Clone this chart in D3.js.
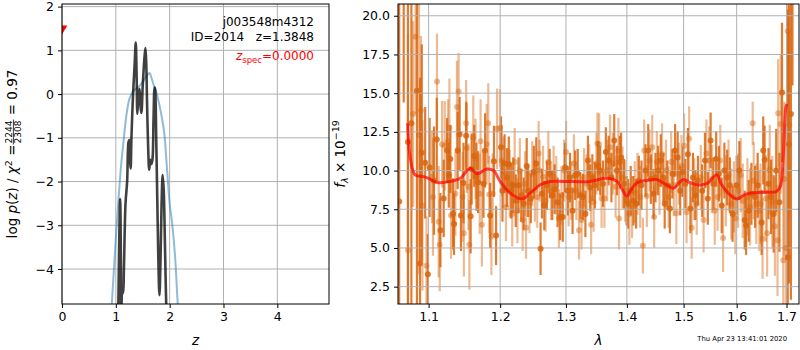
<!DOCTYPE html>
<html><head><meta charset="utf-8">
<script src="https://cdn.jsdelivr.net/npm/d3@7"></script>
<style>
body{margin:0;background:#fff}
svg{font-family:"DejaVu Sans",sans-serif;display:block}
</style>
</head><body>
<svg id="c" width="800" height="350"></svg>
<script>
// ---------- left panel data: redshift probability ----------
const pzZ = [1.04,1.06,1.08,1.095,1.10,1.12,1.135,1.15,1.18,1.21,1.235,1.25,1.265,1.275,1.29,1.32,1.35,1.37,1.385,1.40,1.42,1.44,1.46,1.475,1.50,1.53,1.55,1.565,1.58,1.60,1.62,1.64,1.66,1.68,1.70,1.72,1.73,1.75,1.77,1.79,1.81,1.83,1.85,1.87,1.89,1.91,1.93,1.95];
const pzLog = [-5.5,-3.6,-2.4,-4.0,-5.2,-4.5,-4.55,-4.0,-2.5,-2.0,-1.1,-1.05,-1.55,-1.7,-1.0,0.0,0.7,1.18,0.5,-0.45,0.0,0.12,-0.3,-0.43,0.2,0.8,1.05,0.7,-0.2,-1.2,-1.73,-1.5,-1.6,-1.5,-0.6,0.15,0.1,-1.0,-2.4,-3.8,-4.6,-3.8,-2.5,-1.85,-2.2,-3.3,-4.5,-5.5];
const chiZ = [0.90,0.95,1.0,1.05,1.10,1.15,1.20,1.25,1.30,1.35,1.40,1.45,1.50,1.55,1.60,1.63,1.65,1.70,1.75,1.80,1.85,1.90,1.95,2.0,2.05,2.10,2.15,2.2];
const chiLog = [-5.3,-4.3,-3.3,-2.4,-1.6,-1.0,-0.45,-0.12,0.02,0.1,0.15,0.2,0.28,0.38,0.46,0.48,0.42,0.22,0.05,-0.2,-0.5,-0.9,-1.7,-2.5,-3.0,-3.7,-4.8,-5.6];
const zSpec = [0.0], zSpecMark = [1.5];
const zTicks = [0,1,2,3,4];
const pzTicks = [-4,-3,-2,-1,0,1,2];

// ---------- right panel data: 1D spectrum ----------
const darkWave = [1.0613,1.0672,1.0727,1.0772,1.0845,1.0886,1.0909,1.0954,1.099,1.1013,1.1072,1.111,1.1159,1.1204,1.125,1.1273,1.1295,1.1332,1.1345,1.1395,1.1423,1.1441,1.1477,1.1514,1.1577,1.1591,1.1627,1.1659,1.1682,1.1759,1.1782,1.1855,1.191,1.1941,
 1.2013,1.2034,1.2065,1.2101,1.2127,1.2163,1.2193,1.2230,1.2271,1.2312,1.2348,1.2394,1.2415,1.2456,1.2502,1.2539,1.2605,1.2626,1.2662,1.2703,1.2745,1.2786,1.2822,1.2868,1.2909,1.2950,1.2987,1.3028,1.3064,1.3105,1.3146,1.3187,1.3229,1.3270,1.3311,1.3352,1.3388,1.3424,1.3465,1.3517,
 1.3553,1.3599,1.3646,1.3693,1.3739,1.3786,1.3832,1.3879,1.3902,1.3949,1.3995,1.4019,1.4065,1.4112,1.4158,1.4205,1.4251,1.4321,1.4368,1.4414,1.4461,1.4496,1.4542,1.4589,1.4635,1.4659,1.4705,1.4752,1.4798,1.4845,1.4891,1.4938,1.4985,1.5031,1.5078,1.5124,1.5171,1.5217,1.5264,
 1.5343,1.5395,1.5448,1.5501,1.5553,1.5606,1.5658,1.5711,1.5763,1.5816,1.5868,1.5921,1.6000,1.6052,1.6157,1.6184,1.6236,1.6289,1.6361,1.6414,1.6493,1.6525,1.6552,1.6631,1.6683,1.6736,1.6788,1.6854,1.6907,1.7025,1.7051,1.7091,1.7124];
const darkFlux = [8.0,23.5,11.85,13.05,15.15,4.0,11.15,10.5,3.3,10.2,9.35,12.0,6.15,8.2,11.3,9.7,10.75,7.2,6.55,11.3,12.35,7.1,9.2,12.25,7.05,10.1,10.95,9.6,9.25,9.15,11.3,7.1,10.6,5.8,
 11.5,8.7,10.45,9.55,10.4,8.7,9.05,8.05,9.05,8.4,7.85,10.3,8.7,8.2,9.9,10.45,4.95,8.5,7.75,9.05,9.8,8.4,8.8,7.95,7.0,7.0,10.2,8.7,9.55,7.4,9.7,9.8,8.4,8.3,7.2,10.65,8.9,9.55,9.05,10.3,
 10.0,9.15,11.2,10.65,9.55,11.95,10.0,10.55,10.85,9.15,8.05,7.85,8.7,8.05,7.85,9.35,9.05,10.0,11.3,9.45,8.5,9.55,10.0,10.65,9.55,7.85,9.05,7.55,9.8,11.3,10.85,8.7,9.9,9.15,11.05,7.55,9.55,8.4,9.35,
 8.7,10.65,8.2,11.95,9.15,10.75,9.8,7.75,10.0,9.55,9.05,7.2,9.05,10.0,6.8,6.45,7.4,8.5,8.3,9.05,6.65,11.3,10.7,9.15,8.3,7.2,10.0,7.95,15.05,4.4,11.7,13.65,25];
const darkErr = [14,9.1,14,13,14,12,7,3.6,2.6,3.2,3.5,2.7,2.4,2.5,2.1,2.1,2.2,2.3,2.0,2.5,2.4,2.3,2.6,2.2,2.4,2.3,2.0,2.2,2.0,2.2,2.4,2.1,2.3,1.9,
 2.0,2.0,1.9,1.9,1.8,1.8,1.8,1.7,1.8,1.7,1.7,1.8,1.7,1.6,1.7,1.7,1.7,1.6,1.6,1.6,1.6,1.6,1.6,1.6,1.5,1.6,1.6,1.6,1.6,1.5,1.6,1.6,1.5,1.5,1.5,1.6,1.5,1.5,1.5,1.6,
 1.6,1.5,1.6,1.6,1.6,1.7,1.6,1.7,1.6,1.6,1.6,1.6,1.6,1.6,1.6,1.6,1.6,1.7,1.7,1.6,1.6,1.6,1.6,1.7,1.6,1.6,1.6,1.6,1.6,1.7,1.7,1.6,1.6,1.6,1.7,1.6,1.6,1.6,1.6,
 1.7,1.8,1.7,1.8,1.7,1.8,1.8,1.8,1.8,1.8,1.8,1.8,1.9,1.9,1.9,1.9,2.0,2.0,2.0,2.1,2.1,2.2,2.2,2.3,2.4,2.5,2.7,3.2,4.5,16,9,12,9.5];

const lightWave = [1.0727,1.0795,1.0827,1.0872,1.0899,1.0918,1.0972,1.1045,1.1059,1.1113,1.1136,1.115,1.1182,1.1218,1.1263,1.1282,1.1304,1.1364,1.1386,1.1409,1.1464,1.1482,1.1514,1.1523,1.1546,1.1559,1.1614,1.1646,1.1705,1.1718,1.1737,1.1805,1.1828,1.1841,1.1873,1.1891,1.1955,
 1.1998,1.2024,1.2050,1.2085,1.2142,1.2178,1.2214,1.2255,1.2291,1.2333,1.2369,1.2384,1.2436,1.2477,1.2518,1.2554,1.2575,1.2590,1.2642,1.2683,1.2724,1.2765,1.2806,1.2848,1.2889,1.2930,1.2971,1.3002,1.3043,1.3084,1.3126,1.3167,1.3208,1.3249,1.3290,1.3332,1.3373,1.3404,1.3445,1.3491,1.3507,
 1.3535,1.3576,1.3623,1.3669,1.3716,1.3762,1.3809,1.3856,1.3867,1.3925,1.3972,1.4042,1.4088,1.4135,1.4181,1.4228,1.4275,1.4298,1.4344,1.4391,1.4438,1.4472,1.4519,1.4566,1.4612,1.4682,1.4729,1.4775,1.4822,1.4868,1.4915,1.4961,1.5008,1.5054,1.5101,1.5148,1.5194,1.5241,
 1.5317,1.5369,1.5422,1.5474,1.5527,1.5579,1.5632,1.5684,1.5737,1.5790,1.5842,1.5895,1.5947,1.5974,1.6026,1.6079,1.6118,1.6210,1.6263,1.6315,1.6335,1.6387,1.6447,1.6473,1.6512,1.6578,1.6604,1.6657,1.6709,1.6762,1.6815,1.6828,1.6880,1.6933,1.6953,1.6986,1.7025,1.7058];
const lightFlux = [4.85,13.65,18.65,12.3,13.9,7.75,3.85,9.6,8.3,15.75,6.7,5.2,11.7,11.6,11.9,12.75,7.1,8.5,14.1,15.1,8.3,5.95,13.05,11.45,8.95,5.2,12.15,10.75,8.5,11.9,6.5,11.7,13.05,8.45,5.75,8.5,12.7,
 12.75,10.65,9.9,7.65,9.15,7.2,10.55,7.4,10.0,6.8,9.15,6.3,7.95,9.8,8.7,8.3,11.1,10.0,9.6,8.05,10.55,8.7,9.6,9.05,6.9,8.4,10.0,11.2,8.3,8.7,10.45,8.7,6.15,6.8,9.55,9.15,9.8,6.5,7.95,10.45,11.75,
 11.7,8.2,8.2,10.0,11.5,10.45,8.95,11.3,6.9,9.55,8.7,7.2,7.65,8.6,9.15,8.3,5.15,11.3,8.35,10.65,11.5,7.0,10.55,9.15,11.05,10.0,8.3,10.55,9.05,7.25,9.8,10.3,11.6,7.3,12.05,6.3,8.8,7.85,
 9.55,6.8,11.1,10.65,9.45,7.4,8.3,10.65,5.65,8.7,9.7,7.85,8.3,6.9,8.7,9.7,8.05,8.3,7.65,13.05,9.35,7.85,7.4,7.85,5.6,8.2,5.95,10.05,7.95,6.4,5.5,13.7,13.0,4.2,9.45,5.0,19.0,12.95];
const lightErr = [14,6,5,9,4.8,5.5,3.2,3.0,3.8,3.1,3.6,3.0,2.8,2.9,2.7,3.2,2.8,2.7,3.0,2.5,2.9,2.8,2.8,2.9,2.8,2.9,2.7,2.6,2.6,2.7,2.7,2.6,2.6,2.5,2.5,2.6,2.6,
 2.5,2.3,2.3,2.2,2.2,2.1,2.2,2.1,2.1,2.0,2.1,2.0,2.0,2.1,2.0,2.0,2.1,2.0,2.0,2.0,2.0,1.9,2.0,1.9,1.9,1.9,2.0,2.0,1.9,1.9,1.9,1.9,1.9,1.9,1.9,1.9,1.9,1.9,1.9,2.0,2.0,
 2.0,1.9,1.9,2.0,2.1,2.0,2.0,2.1,2.0,2.0,2.0,2.0,2.0,2.0,2.0,2.0,1.8,2.0,2.0,2.0,2.1,2.0,2.0,2.0,2.0,2.0,2.0,2.0,2.0,2.0,2.0,2.0,2.1,2.0,2.1,2.0,2.0,2.0,
 2.1,2.1,2.2,2.2,2.2,2.2,2.2,2.3,2.2,2.3,2.3,2.3,2.3,2.3,2.4,2.4,2.4,2.5,2.5,1.4,2.5,2.6,2.6,2.6,2.6,2.8,2.8,2.9,3.0,3.2,3.6,3.5,4.5,6,5,8,6,6];

const modelWave = [1.0723,1.0755,1.082,1.0934,1.1,1.1113,1.1294,1.1432,1.157,1.1666,1.1808,1.1904,1.2,1.2147,1.232,1.2446,1.26,1.2752,1.296,1.3387,1.366,1.383,1.394,1.3998,1.4054,1.4168,1.4342,1.4516,1.4694,1.4815,1.4995,1.5117,1.524,1.5426,1.5614,1.571,1.5837,1.6,1.6194,1.6523,1.6795,1.6876,1.693,1.6986,1.701];
const modelFlux = [13.06,10.9,9.72,9.61,9.5,9.23,9.3,9.5,10.15,9.79,10.1,10.0,9.3,8.54,8.17,8.54,9.08,9.3,9.3,9.3,9.5,9.3,8.65,8.32,8.65,9.2,9.36,9.42,9.08,8.86,9.42,9.23,9.08,9.15,9.72,9.08,8.54,8.17,8.49,8.6,8.65,9.0,10.7,14.1,14.3];
const waveTicks = [1.1,1.2,1.3,1.4,1.5,1.6,1.7];
const fluxTicks = [2.5,5.0,7.5,10.0,12.5,15.0,17.5,20.0];

// ---------- drawing ----------
const svg = d3.select("#c");
const L = {x0:62, x1:329, y0:4, y1:304};
const R = {x0:398, x1:799, y0:4, y1:304};
const GRID = "#b0b0b0", TICKFS = 12.5;

const xz = d3.scaleLinear().domain([0,4.96]).range([L.x0,L.x1]);
const yz = d3.scaleLinear().domain([-4.8,2.06]).range([L.y1,L.y0]);
const xw = d3.scaleLog().domain([1.0598,1.726]).range([R.x0,R.x1]);
const yf = d3.scaleLinear().domain([1.38,20.76]).range([R.y1,R.y0]);

const defs = svg.append("defs");
defs.append("clipPath").attr("id","clipL").append("rect").attr("x",L.x0).attr("y",L.y0).attr("width",L.x1-L.x0).attr("height",L.y1-L.y0);
defs.append("clipPath").attr("id","clipR").append("rect").attr("x",R.x0).attr("y",R.y0).attr("width",R.x1-R.x0).attr("height",R.y1-R.y0);

function grid(g, P, xs, xt, ys, yt){
  g.selectAll(null).data(xt).join("line").attr("x1",d=>xs(d)).attr("x2",d=>xs(d)).attr("y1",P.y0).attr("y2",P.y1)
    .attr("stroke",GRID).attr("stroke-width",1);
  g.selectAll(null).data(yt).join("line").attr("y1",d=>ys(d)).attr("y2",d=>ys(d)).attr("x1",P.x0).attr("x2",P.x1)
    .attr("stroke",GRID).attr("stroke-width",1);
}
function axes(P, xs, xt, xf, ys, yt, yf_){
  const gx = svg.append("g").attr("transform",`translate(0,${P.y1})`)
    .call(d3.axisBottom(xs).tickValues(xt).tickFormat(xf).tickSize(4).tickPadding(4));
  const gy = svg.append("g").attr("transform",`translate(${P.x0},0)`)
    .call(d3.axisLeft(ys).tickValues(yt).tickFormat(yf_).tickSize(4).tickPadding(4));
  [gx,gy].forEach(g=>{g.select(".domain").remove(); g.selectAll("text").attr("font-size",TICKFS).attr("font-family","DejaVu Sans").attr("fill","#000");
    g.selectAll("line").attr("stroke","#000").attr("stroke-width",1);});
  svg.append("rect").attr("x",P.x0).attr("y",P.y0).attr("width",P.x1-P.x0).attr("height",P.y1-P.y0)
    .attr("fill","none").attr("stroke","#000").attr("stroke-width",1);
}

// ----- left panel -----
const gL = svg.append("g");
grid(gL, L, xz, zTicks, yz, pzTicks);
const gLc = gL.append("g").attr("clip-path","url(#clipL)");
const line = d3.line().curve(d3.curveCatmullRom.alpha(0.5));
gLc.append("path").attr("d", line(chiZ.map((z,i)=>[xz(z),yz(chiLog[i])])))
  .attr("fill","none").attr("stroke","#1f77b4").attr("stroke-opacity",0.5).attr("stroke-width",2);
gLc.append("path").attr("d", line(pzZ.map((z,i)=>[xz(z),yz(pzLog[i])])))
  .attr("fill","none").attr("stroke","#000").attr("stroke-opacity",0.75).attr("stroke-width",2.6).attr("stroke-linejoin","round");
gLc.selectAll(null).data(zSpec).join("path")
  .attr("d", d3.symbol(d3.symbolTriangle, 48)())
  .attr("transform",(d,i)=>`translate(${xz(d)},${yz(zSpecMark[i])}) rotate(180)`)
  .attr("fill","red");
axes(L, xz, zTicks, d3.format("d"), yz, pzTicks, d3.format("d"));

// annotations
const ann = svg.append("g").attr("font-size",12).attr("text-anchor","end");
ann.append("text").attr("x",314).attr("y",26).text("j003548m4312");
ann.append("text").attr("x",314).attr("y",41).attr("xml:space","preserve").text("ID=2014   z=1.3848");
const zs = ann.append("text").attr("x",314).attr("y",60).attr("fill","red");
zs.append("tspan").attr("font-style","italic").text("z");
zs.append("tspan").attr("font-size",8.5).attr("dy",2.5).text("spec");
zs.append("tspan").attr("dy",-2.5).text("=0.0000");

// x label
svg.append("text").attr("x",(L.x0+L.x1)/2).attr("y",345).attr("text-anchor","middle")
  .attr("font-size",13.5).attr("font-style","italic").text("z");

// y label with fraction
{
  const g = svg.append("g").attr("font-size",13.5);
  const t1 = g.append("text").attr("x",0).attr("y",0);
  t1.append("tspan").text("log ");
  t1.append("tspan").attr("font-style","italic").text("p");
  t1.append("tspan").text("(");
  t1.append("tspan").attr("font-style","italic").text("z");
  t1.append("tspan").text(") / ");
  t1.append("tspan").attr("font-style","italic").text("χ");
  t1.append("tspan").attr("font-size",9.5).attr("dy",-5.5).text("2");
  t1.append("tspan").attr("dy",5.5).text(" = ");
  const w1 = t1.node().getComputedTextLength();
  const num = g.append("text").attr("font-size",9).attr("text-anchor","middle").attr("y",-5).text("2244");
  const den = g.append("text").attr("font-size",9).attr("text-anchor","middle").attr("y",4).text("2308");
  const wf = Math.max(num.node().getComputedTextLength(), den.node().getComputedTextLength()) + 2;
  num.attr("x", w1 + wf/2); den.attr("x", w1 + wf/2);
  g.append("line").attr("x1",w1).attr("x2",w1+wf).attr("y1",-3.6).attr("y2",-3.6).attr("stroke","#000").attr("stroke-width",0.8);
  const t3 = g.append("text").attr("x",w1+wf).attr("y",0).attr("xml:space","preserve").text(" = 0.97");
  const W = w1 + wf + t3.node().getComputedTextLength();
  g.attr("transform",`translate(17,${(L.y0+L.y1)/2 + W/2}) rotate(-90)`);
}

// ----- right panel -----
const gR = svg.append("g");
const gRc = gR.append("g").attr("clip-path","url(#clipR)");
const ORANGE = "#d9650e";
function errbars(g, W, F, E, op){
  g.selectAll(null).data(W).join("line")
    .attr("x1",d=>xw(d)).attr("x2",d=>xw(d))
    .attr("y1",(d,i)=>yf(F[i]-E[i])).attr("y2",(d,i)=>yf(F[i]+E[i]))
    .attr("stroke",ORANGE).attr("stroke-opacity",op).attr("stroke-width",2.2);
}
function dots(g, W, F, op){
  g.selectAll(null).data(W).join("circle")
    .attr("cx",d=>xw(d)).attr("cy",(d,i)=>yf(F[i])).attr("r",3)
    .attr("fill",ORANGE).attr("fill-opacity",op);
}
errbars(gRc, lightWave, lightFlux, lightErr, 0.45);
errbars(gRc, darkWave, darkFlux, darkErr, 0.85);
grid(gR, R, xw, waveTicks, yf, fluxTicks);
const gRd = gR.append("g").attr("clip-path","url(#clipR)");
dots(gRd, lightWave, lightFlux, 0.45);
dots(gRd, darkWave, darkFlux, 0.85);
gRd.append("path").attr("d", d3.line().curve(d3.curveCatmullRom.alpha(0.5))(modelWave.map((w,i)=>[xw(w),yf(modelFlux[i])])))
  .attr("fill","none").attr("stroke","red").attr("stroke-opacity",0.7).attr("stroke-width",3);
axes(R, xw, waveTicks, d3.format(".1f"), yf, fluxTicks, d3.format(".1f"));

svg.append("text").attr("x",(R.x0+R.x1)/2).attr("y",345).attr("text-anchor","middle")
  .attr("font-size",13.5).attr("font-style","italic").text("λ");
{
  const t = svg.append("text").attr("font-size",13.5).attr("text-anchor","middle")
    .attr("transform",`translate(345,${(R.y0+R.y1)/2}) rotate(-90)`);
  t.append("tspan").attr("font-style","italic").text("f");
  t.append("tspan").attr("font-style","italic").attr("font-size",9.5).attr("dy",3).text("λ");
  t.append("tspan").attr("dy",-3).text(" × 10");
  t.append("tspan").attr("font-size",9.5).attr("dy",-6).text("−19");
}
svg.append("text").attr("x",787).attr("y",341).attr("text-anchor","end").attr("font-size",6.8).text("Thu Apr 23 13:41:01 2020");
</script>
</body></html>
